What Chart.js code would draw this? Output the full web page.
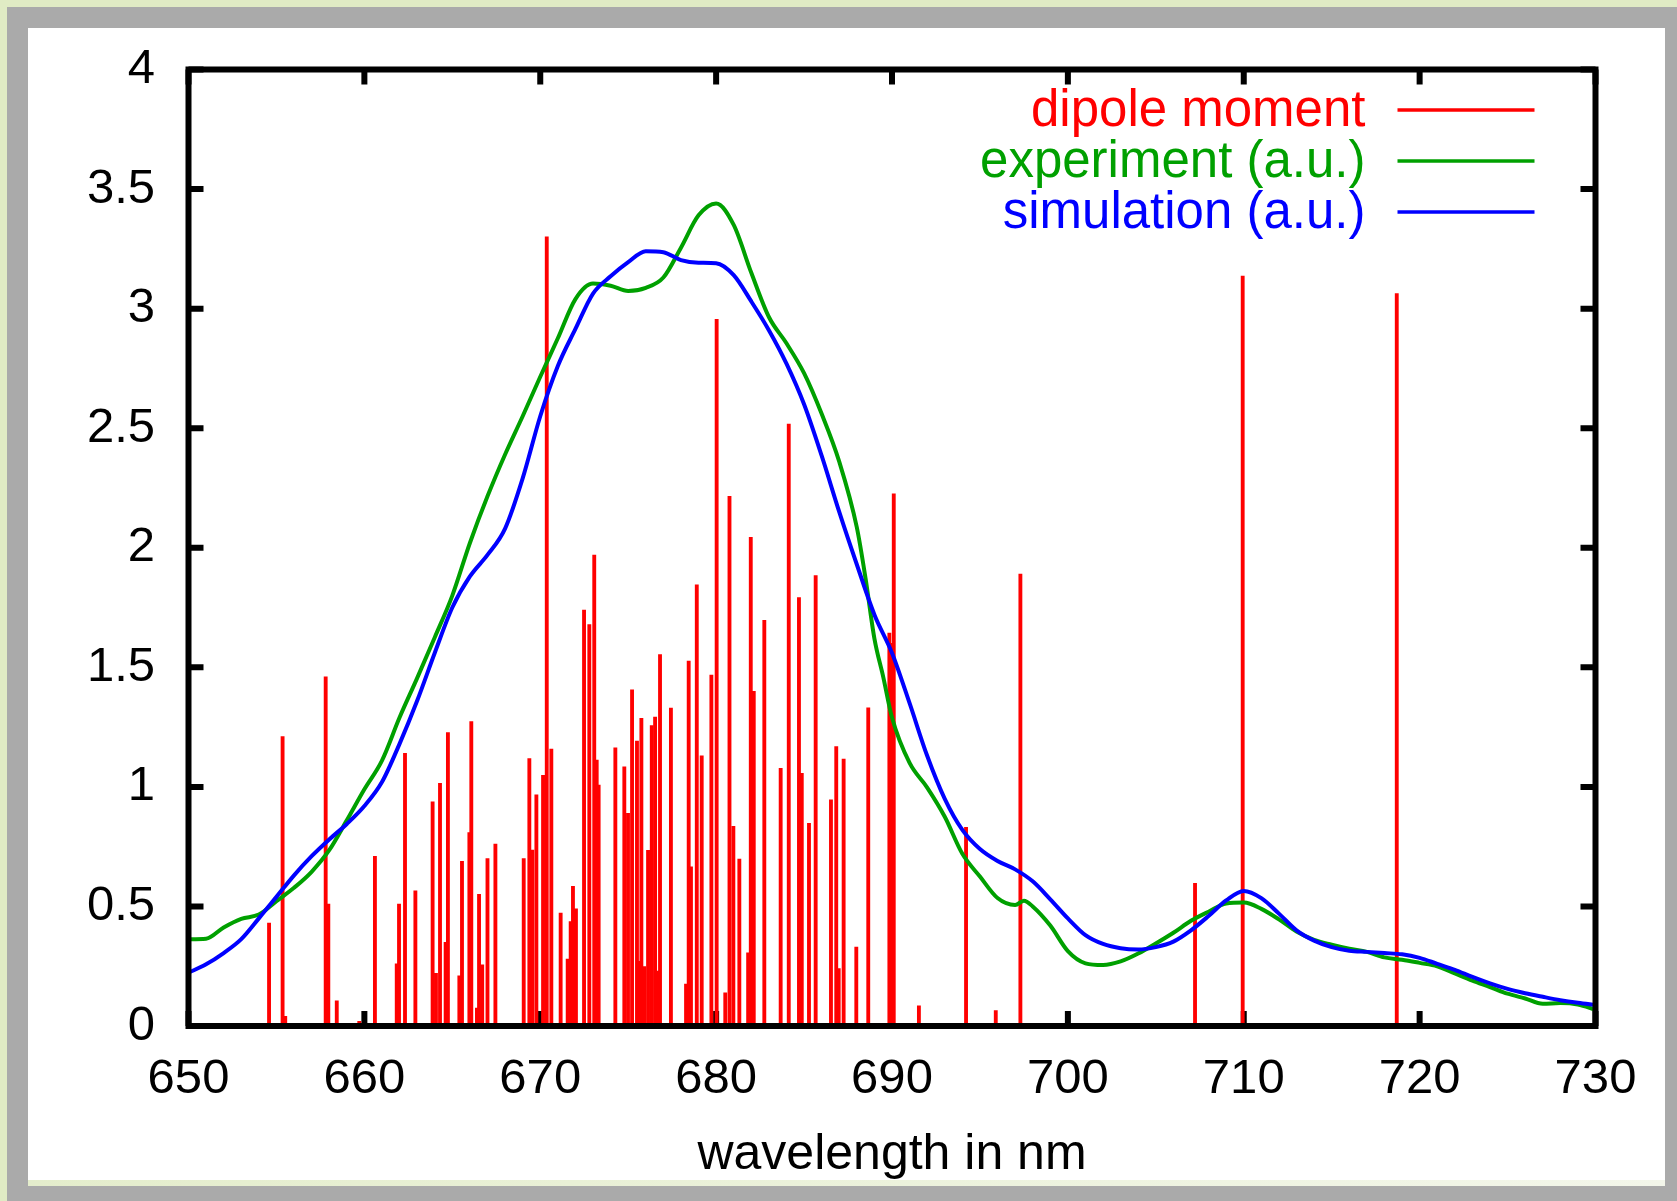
<!DOCTYPE html>
<html>
<head>
<meta charset="utf-8">
<title>dipole moment vs wavelength</title>
<script src="https://cdn.jsdelivr.net/npm/chart.js@4.4.0/dist/chart.umd.min.js"></script>
<style>
  html, body { margin: 0; padding: 0; }
  body { width: 1677px; height: 1201px; background: #e0ebc4; position: relative; overflow: hidden; }
  #frame { position: absolute; left: 7px; top: 7px; width: 1670px; height: 1194px; background: #aaaaaa; }
  #paper { position: absolute; left: 28px; top: 28px; width: 1637px; height: 1152px; background: #ffffff; }
  #strip { position: absolute; left: 28px; top: 1180px; width: 1637px; height: 6px; background: linear-gradient(90deg, #e4edcc, #f3f6ea); }
  #chart { position: absolute; left: 0; top: 0; }
</style>
</head>
<body>
<div id="frame"></div>
<div id="paper"><canvas id="chart" width="1637" height="1152"></canvas></div>
<div id="strip"></div>
<script>
// tick labels
const xTickValues = [650, 660, 670, 680, 690, 700, 710, 720, 730];
const yTickValues = [0, 0.5, 1, 1.5, 2, 2.5, 3, 3.5, 4];

// dipole moment sticks (wavelength in nm, height)
const stickNm = [654.58, 655.35, 655.5, 657.8, 657.95, 658.43, 659.71, 660.6, 661.84, 661.97,
  662.31, 662.9, 663.88, 664.07, 664.3, 664.62, 664.75, 665.4, 665.55, 665.97,
  666.08, 666.4, 666.52, 666.7, 667.0, 667.45, 669.06, 669.38, 669.55, 669.78,
  670.16, 670.37, 670.63, 671.16, 671.56, 671.73, 671.86, 672.03, 672.49, 672.79,
  673.07, 673.21, 673.32, 674.27, 674.78, 674.99, 675.22, 675.5, 675.63, 675.75,
  675.92, 676.13, 676.34, 676.53, 676.68, 676.81, 677.43, 678.29, 678.44, 678.57,
  678.9, 679.18, 679.73, 680.03, 680.52, 680.76, 680.98, 681.32, 681.82, 681.97,
  682.14, 682.74, 683.67, 684.13, 684.71, 684.87, 685.28, 685.66, 686.53, 686.83,
  686.97, 687.25, 687.97, 688.65, 689.85, 689.95, 690.1, 691.53, 694.21, 695.9,
  697.3, 707.23, 709.94, 718.7];
const stickVal = [0.43, 1.21, 0.04, 1.46, 0.51, 0.105, 0.02, 0.71, 0.26, 0.51,
  1.14, 0.565, 0.937, 0.22, 1.015, 0.35, 1.227, 0.21, 0.689, 0.809,
  1.273, 0.075, 0.551, 0.256, 0.70, 0.761, 0.70, 1.118, 0.736, 0.967,
  1.048, 3.30, 1.158, 0.472, 0.28, 0.437, 0.584, 0.49, 1.739, 1.679,
  1.969, 1.112, 1.008, 1.163, 1.084, 0.889, 1.406, 1.192, 0.27, 1.287,
  0.248, 0.735, 1.256, 1.292, 0.23, 1.553, 1.329, 0.175, 1.526, 0.666,
  1.845, 1.13, 1.467, 2.955, 0.139, 2.215, 0.835, 0.698, 0.306, 2.044,
  1.40, 1.696, 1.078, 2.517, 1.792, 1.057, 0.848, 1.884, 0.946, 1.168,
  0.24, 1.116, 0.33, 1.331, 1.643, 1.60, 2.225, 0.084, 0.831, 0.065,
  1.89, 0.597, 3.136, 3.063];

// experiment spectrum (a.u.)
const expNm = [650, 651, 652, 653, 654, 655, 656, 657, 658, 659,
  660, 661, 662, 663, 664, 665, 666, 667, 668, 669,
  670, 671, 672, 673, 674, 675, 676, 677, 678, 679,
  680, 681, 682, 683, 684, 685, 686, 687, 688, 688.5, 689, 689.5,
  690, 691, 692, 693, 694, 695, 696, 697, 697.5, 698, 699,
  700, 701, 702, 703, 704, 705, 706, 707, 708, 709,
  710, 711, 712, 713, 714, 715, 716, 717, 718, 719,
  720, 721, 722, 723, 724, 725, 726, 727, 728, 729, 730];
const experiment = [0.363, 0.365, 0.412, 0.448, 0.466, 0.522, 0.578, 0.645, 0.735, 0.86,
  0.99, 1.11, 1.29, 1.455, 1.625, 1.80, 2.02, 2.215, 2.39, 2.55,
  2.715, 2.876, 3.04, 3.105, 3.096, 3.074, 3.087, 3.13, 3.255, 3.39,
  3.44, 3.35, 3.15, 2.965, 2.855, 2.73, 2.56, 2.36, 2.085, 1.87, 1.62, 1.46,
  1.29, 1.10, 0.997, 0.875, 0.72, 0.625, 0.535, 0.506, 0.524, 0.50, 0.42,
  0.313, 0.262, 0.255, 0.27, 0.303, 0.345, 0.39, 0.44, 0.478, 0.512,
  0.516, 0.49, 0.446, 0.395, 0.36, 0.34, 0.323, 0.31, 0.287, 0.277,
  0.264, 0.25, 0.22, 0.19, 0.163, 0.135, 0.115, 0.093, 0.096, 0.09, 0.068];

// simulation spectrum (a.u.)
const simNm = [650, 651, 652, 653, 654, 655, 656, 657, 658, 659,
  660, 661, 662, 663, 664, 665, 666, 667, 668, 669,
  670, 671, 672, 673, 674, 675, 676, 677, 678, 679,
  680, 681, 682, 683, 684, 685, 686, 687, 688, 689,
  690, 691, 692, 693, 694, 695, 696, 697, 698, 699,
  700, 701, 702, 703, 704, 705, 706, 707, 708, 709,
  710, 711, 712, 713, 714, 715, 716, 717, 718, 719,
  720, 721, 722, 723, 724, 725, 726, 727, 728, 729, 730];
const simulation = [0.223, 0.258, 0.305, 0.363, 0.45, 0.54, 0.63, 0.71, 0.78, 0.845,
  0.92, 1.02, 1.18, 1.36, 1.56, 1.75, 1.88, 1.97, 2.08, 2.29,
  2.55, 2.76, 2.915, 3.063, 3.135, 3.194, 3.24, 3.236, 3.203, 3.192,
  3.19, 3.14, 3.03, 2.91, 2.77, 2.60, 2.385, 2.15, 1.93, 1.72,
  1.56, 1.35, 1.13, 0.95, 0.82, 0.74, 0.69, 0.655, 0.605, 0.53,
  0.45, 0.38, 0.343, 0.325, 0.32, 0.33, 0.353, 0.40, 0.46, 0.525,
  0.565, 0.535, 0.47, 0.40, 0.357, 0.33, 0.315, 0.31, 0.305, 0.30,
  0.285, 0.26, 0.235, 0.205, 0.178, 0.155, 0.137, 0.122, 0.108, 0.097, 0.088];

const FONT = 'Liberation Sans, Arial, sans-serif';

// gnuplot style border, inward ticks and key
const gnuplotFrame = {
  id: 'gnuplotFrame',
  beforeDatasetsDraw(chart) {
    const { ctx, chartArea: a, scales: { x, y } } = chart;
    ctx.save();
    ctx.strokeStyle = '#000';
    ctx.lineWidth = 6;
    ctx.beginPath();
    xTickValues.forEach(v => {
      const px = x.getPixelForValue(v);
      ctx.moveTo(px, a.bottom); ctx.lineTo(px, a.bottom - 15);
      ctx.moveTo(px, a.top); ctx.lineTo(px, a.top + 15);
    });
    yTickValues.forEach(v => {
      const py = y.getPixelForValue(v);
      ctx.moveTo(a.left, py); ctx.lineTo(a.left + 15, py);
      ctx.moveTo(a.right, py); ctx.lineTo(a.right - 15, py);
    });
    ctx.stroke();
    ctx.restore();
  },
  afterDatasetsDraw(chart) {
    const { ctx, chartArea: a } = chart;
    ctx.save();
    ctx.strokeStyle = '#000';
    ctx.lineWidth = 6;
    ctx.strokeRect(a.left, a.top, a.right - a.left, a.bottom - a.top);

    // key, top right inside the plot
    ctx.font = '51px ' + FONT;
    ctx.textAlign = 'right';
    ctx.textBaseline = 'alphabetic';
    chart.data.datasets.forEach((ds, i) => {
      const rowY = a.top + 40.5 + i * 51;
      ctx.fillStyle = ds.keyColor;
      ctx.fillText(ds.label, a.right - 230, rowY + 16);
      ctx.strokeStyle = ds.keyColor;
      ctx.lineWidth = 3.5;
      ctx.beginPath();
      ctx.moveTo(a.right - 198, rowY);
      ctx.lineTo(a.right - 61, rowY);
      ctx.stroke();
    });
    ctx.restore();
  }
};

new Chart(document.getElementById('chart'), {
  type: 'bar',
  data: {
    datasets: [
      {
        type: 'bar',
        label: 'dipole moment',
        keyColor: '#ff0000',
        data: stickNm.map((nm, i) => ({ x: nm, y: stickVal[i] })),
        backgroundColor: '#ff0000',
        borderWidth: 0,
        barThickness: 3.2,
        order: 3
      },
      {
        type: 'line',
        label: 'experiment (a.u.)',
        keyColor: '#00a000',
        data: expNm.map((nm, i) => ({ x: nm, y: experiment[i] })),
        borderColor: '#00a000',
        borderWidth: 4,
        pointRadius: 0,
        cubicInterpolationMode: 'monotone',
        order: 2
      },
      {
        type: 'line',
        label: 'simulation (a.u.)',
        keyColor: '#0000ff',
        data: simNm.map((nm, i) => ({ x: nm, y: simulation[i] })),
        borderColor: '#0000ff',
        borderWidth: 4,
        pointRadius: 0,
        cubicInterpolationMode: 'monotone',
        order: 1
      }
    ]
  },
  options: {
    responsive: false,
    animation: false,
    layout: { padding: { left: 0, top: 41.5, right: 69.5, bottom: 0 } },
    plugins: { legend: { display: false }, tooltip: { enabled: false } },
    scales: {
      x: {
        type: 'linear',
        min: 650,
        max: 730,
        offset: false,
        grid: { display: false, drawTicks: false },
        border: { display: false },
        afterBuildTicks: s => { s.ticks = xTickValues.map(v => ({ value: v })); },
        afterFit: s => { s.height = 154; s.paddingLeft = 0; s.paddingRight = 0; },
        ticks: {
          padding: 24,
          color: '#000',
          maxRotation: 0,
          autoSkip: false,
          font: { family: FONT, size: 49 },
          callback: v => String(v)
        },
        title: {
          display: true,
          text: 'wavelength in nm',
          color: '#000',
          font: { family: FONT, size: 50 },
          padding: { top: 0, bottom: -5 }
        }
      },
      y: {
        type: 'linear',
        min: 0,
        max: 4,
        grid: { display: false, drawTicks: false },
        border: { display: false },
        afterBuildTicks: s => { s.ticks = yTickValues.map(v => ({ value: v })); },
        afterFit: s => { s.width = 160.5; s.paddingTop = 0; s.paddingBottom = 0; },
        ticks: {
          padding: 33.5,
          color: '#000',
          font: { family: FONT, size: 49 },
          callback: v => String(v)
        }
      }
    }
  },
  plugins: [gnuplotFrame]
});
</script>
</body>
</html>
